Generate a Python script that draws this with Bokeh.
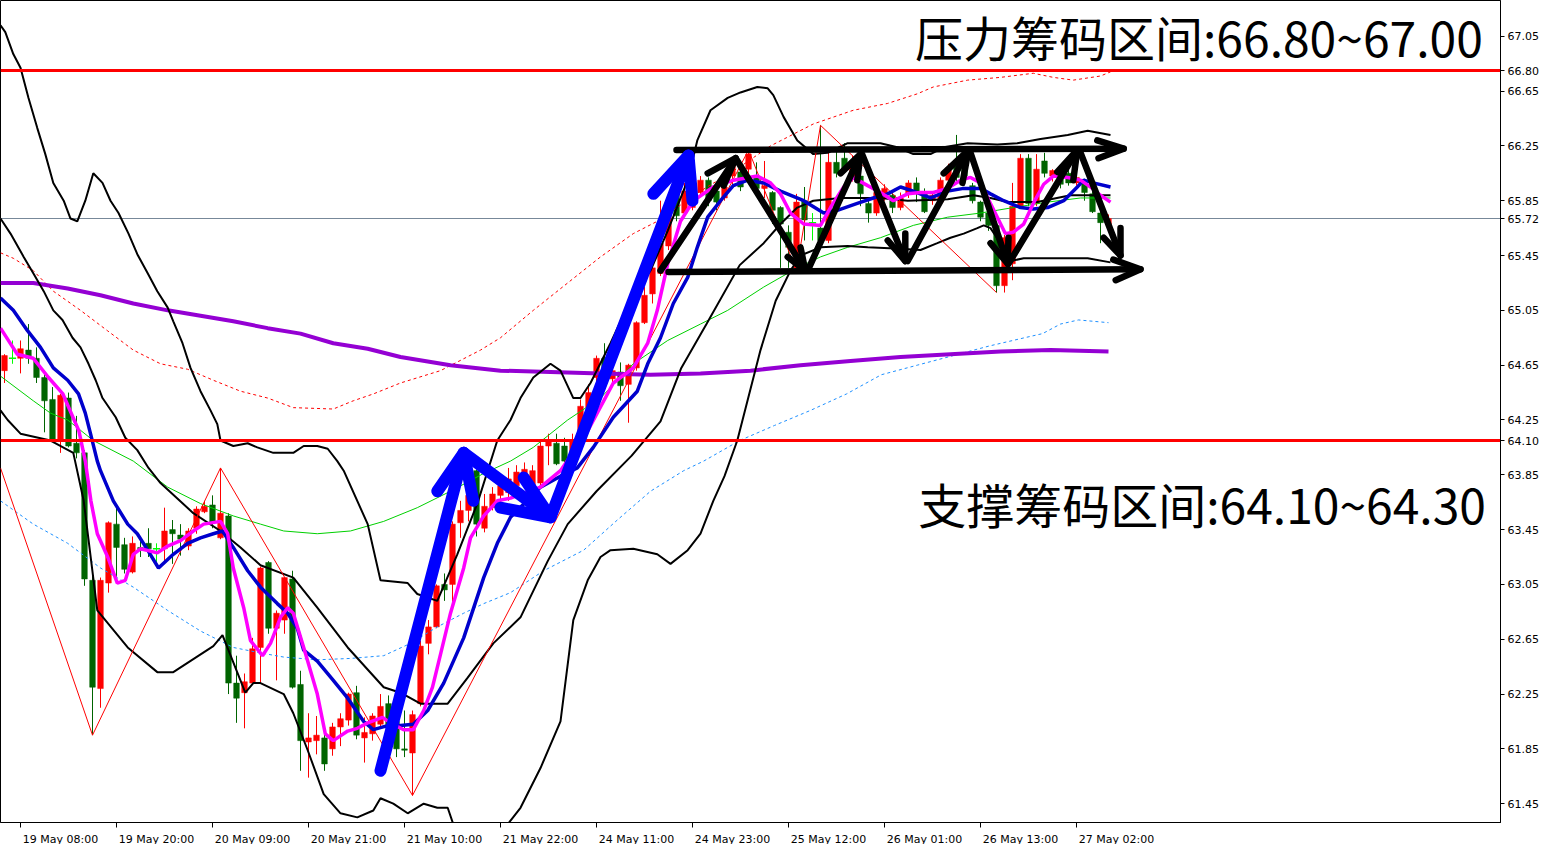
from bokeh.plotting import figure
from bokeh.models import FixedTicker, NumeralTickFormatter, Label
from bokeh.embed import file_html
from bokeh.resources import INLINE

# ---------------- data (H1 candles, bar index 0..138) ----------------
OPEN = [64.61,64.70,64.70,64.76,64.70,64.56,64.40,64.11,64.41,64.08,
        64.01,63.08,62.29,63.06,63.49,63.34,63.14,63.32,63.35,63.31,
        63.31,63.45,63.41,63.33,63.46,63.58,63.63,63.39,63.55,62.33,
        62.26,62.33,62.59,63.21,62.73,62.79,63.09,62.32,61.90,61.91,
        61.93,61.85,62.01,62.06,62.26,61.93,61.96,62.03,62.18,62.05,
        61.85,61.82,62.18,62.62,62.74,63.05,63.05,63.50,63.59,63.88,
        63.46,63.61,63.70,63.72,63.77,63.82,63.77,63.79,64.06,64.08,
        64.06,63.97,64.08,64.34,64.56,64.70,64.55,64.60,64.51,64.63,
        64.96,65.17,65.32,65.52,65.89,65.76,65.80,65.91,66.00,65.92,
        65.87,66.03,66.06,66.08,66.02,65.94,65.91,65.80,65.62,65.36,
        65.85,65.69,65.65,65.56,66.13,66.16,66.02,66.03,65.83,65.76,
        65.87,65.89,65.80,65.90,65.98,65.91,65.85,65.84,66.00,66.12,
        66.08,65.96,65.84,65.76,65.67,65.23,65.39,65.80,66.16,65.83,
        66.14,66.03,66.03,66.05,65.98,65.98,65.90,65.76,65.68]
HIGH = [64.73,64.83,64.83,64.95,64.78,64.61,64.49,64.44,64.45,64.28,
        64.03,63.13,63.10,63.51,63.61,63.39,63.40,63.37,63.46,63.35,
        63.61,63.52,63.49,63.46,63.62,63.66,63.70,63.90,63.57,62.53,
        62.40,62.66,63.18,63.22,62.86,63.10,63.15,62.42,62.11,62.09,
        61.96,62.04,62.11,62.26,62.31,62.08,62.11,62.25,62.24,62.09,
        62.13,62.13,62.64,62.79,63.05,63.13,63.51,63.66,63.73,63.89,
        63.71,63.76,63.83,63.90,63.92,63.94,63.92,64.10,64.15,64.15,
        64.12,64.15,64.40,64.51,64.72,64.81,64.66,64.67,64.66,64.97,
        65.22,65.39,65.85,65.79,65.94,65.98,65.96,66.03,66.02,65.95,
        66.01,66.16,66.10,66.22,66.13,66.14,65.92,65.81,65.67,65.90,
        65.95,65.76,66.40,66.22,66.22,66.27,66.18,66.05,65.87,65.96,
        65.97,65.92,65.91,66.00,66.02,65.94,65.92,66.02,66.12,66.33,
        66.14,65.98,65.85,65.78,65.69,65.60,65.98,66.19,66.19,66.19,
        66.20,66.08,66.05,66.08,66.04,66.01,65.92,65.77,65.75]
LOW = [64.52,64.66,64.59,64.66,64.52,64.16,64.10,64.01,64.05,63.97,
       63.04,61.95,62.15,62.99,63.08,63.13,63.13,63.25,63.25,63.20,
       63.22,63.20,63.26,63.30,63.42,63.57,63.46,63.38,62.25,62.04,
       62.00,62.32,62.33,62.69,62.35,62.69,62.29,61.69,61.64,61.81,
       61.69,61.80,61.87,62.02,61.92,61.75,61.91,62.00,61.95,61.79,
       61.79,61.51,62.16,62.54,62.73,62.93,62.88,63.39,63.51,63.40,
       63.43,63.59,63.64,63.66,63.73,63.76,63.75,63.77,63.92,63.92,
       63.90,63.93,64.05,64.17,64.51,64.51,64.49,64.39,64.23,64.61,
       64.95,65.10,65.30,65.49,65.70,65.74,65.78,65.90,65.81,65.78,
       65.85,65.95,65.92,65.98,65.92,65.87,65.68,65.36,65.36,65.34,
       65.56,65.56,65.54,65.54,66.02,66.07,65.99,65.81,65.69,65.74,
       65.85,65.76,65.78,65.87,65.84,65.76,65.82,65.83,65.97,65.98,
       66.00,65.83,65.70,65.63,65.18,65.18,65.27,65.79,65.81,65.81,
       66.02,65.99,65.94,65.96,65.96,65.85,65.76,65.54,65.66]
CLOSE = [64.72,64.70,64.77,64.70,64.56,64.39,64.11,64.43,64.06,64.01,
         63.09,62.30,63.08,63.50,63.32,63.16,63.35,63.30,63.31,63.31,
         63.44,63.42,63.38,63.44,63.60,63.62,63.50,63.57,62.33,62.22,
         62.34,62.58,63.17,62.73,62.84,63.10,62.30,61.91,61.93,61.95,
         61.74,62.01,62.07,62.25,61.95,61.97,62.09,62.16,62.00,61.85,
         61.84,62.10,62.60,62.74,63.04,63.01,63.49,63.59,63.70,63.49,
         63.62,63.71,63.77,63.82,63.87,63.89,63.88,64.06,64.10,63.93,
         63.95,64.10,64.35,64.45,64.70,64.59,64.61,64.50,64.65,64.96,
         65.16,65.36,65.54,65.74,65.74,65.92,65.94,66.00,65.85,65.84,
         65.95,66.11,65.95,66.19,65.94,65.96,65.78,65.68,65.51,65.84,
         65.71,65.69,65.56,66.13,66.05,66.08,66.14,65.90,65.76,65.91,
         65.94,65.80,65.87,65.98,65.91,65.77,65.89,66.00,66.09,66.02,
         66.03,65.85,65.73,65.67,65.23,65.58,65.81,66.16,65.83,66.08,
         66.05,66.07,65.97,65.98,66.02,65.91,65.77,65.69,65.72]

# indicator lines: (bar, price)
MA_FAST = [(-0.5,64.92),(1.6,64.73),(3.6,64.70),(5.5,64.56),(7.3,64.44),(9.3,64.17),(10.1,63.95),(10.8,63.66),
           (11.6,63.42),(12.9,63.25),(14.1,63.06),(15.1,63.08),(16.1,63.27),(17,63.31),(19.1,63.28),(20.4,63.33),
           (22,63.37),(23.6,63.44),(24.9,63.49),(27,63.51),(27.9,63.42),(28.6,63.17),(29.9,62.88),(30.75,62.64),
           (32.25,62.53),(33.25,62.62),(34.5,62.81),(35.4,62.88),(36.1,62.84),(37.4,62.59),(39.1,62.25),(40.1,61.96),
           (41.1,61.91),(42.9,61.98),(44.1,62.00),(45.4,62.04),(47.25,62.08),(48.25,62.04),(49.9,61.99),(51.1,61.99),
           (52.4,62.13),(53.5,62.30),(54.5,62.54),(55.75,62.84),(57.4,63.17),(58.25,63.39),(59.9,63.55),(61.6,63.66),
           (63.25,63.68),(67,63.76),(69.5,63.88),(72.9,64.17),(76.1,64.52),(78.6,64.63),(80.4,64.81),(81.6,65.05),
           (82.9,65.39),(84.5,65.70),(86.1,65.85),(88.6,65.95),(91.1,66.00),(94.1,66.03),(95.75,65.98),(97,65.90),
           (98.25,65.76),(99.9,65.68),(102,65.67),(103.25,65.80),(104.9,65.95),(106.1,66.02),(107.9,65.96),(109.5,65.91),
           (111.1,65.85),(112.9,65.90),(114.5,65.91),(116.1,65.91),(117.9,65.94),(119.5,66.00),(120.75,66.02),(122,65.98),
           (123.25,65.83),(124.1,65.73),(125.1,65.61),(126.1,65.62),(127.4,65.68),(128.6,65.83),(129.9,65.97),(131.1,66.03),
           (132.9,66.02),(134.5,66.00),(135.75,65.95),(137,65.89),(138.25,65.84)]
MA_SLOW = [(-0.5,65.14),(1.1,65.05),(2.9,64.90),(4.5,64.78),(6.1,64.63),(7.9,64.54),(9.25,64.44),(10.1,64.30),
           (10.75,64.15),(11.6,63.95),(12,63.88),(13.6,63.66),(15.4,63.49),(16.6,63.42),(17.9,63.30),(19.25,63.17),
           (21.1,63.27),(22.9,63.35),(24.5,63.39),(26.1,63.42),(27.25,63.44),(28.6,63.32),(30.4,63.15),(32,63.03),
           (34.1,62.91),(35.4,62.84),(36.6,62.73),(37.4,62.57),(39.1,62.49),(41.1,62.35),(42.9,62.22),(44.9,62.05),
           (46.1,61.99),(47.9,62.02),(49.5,62.02),(51.1,62.03),(52.9,62.13),(54.9,62.33),(57.4,62.66),(59.9,63.10),
           (61.6,63.35),(63.25,63.54),(67,63.76),(69.5,63.84),(71.6,63.90),(73.6,64.05),(76.1,64.27),(79.1,64.46),
           (80.4,64.66),(82,64.85),(83.6,65.10),(85.4,65.29),(86.6,65.51),(87.9,65.73),(89.5,65.85),(91.1,65.96),
           (92.9,66.00),(94.9,65.98),(97,65.92),(99.9,65.85),(102.4,65.76),(104.1,65.78),(106.6,65.83),(108.6,65.87),
           (110.4,65.90),(112,65.95),(113.6,65.92),(115.75,65.87),(117.9,65.92),(119.9,65.94),(122,65.94),(123.25,65.90),
           (124.9,65.85),(127,65.80),(128.6,65.79),(130.4,65.80),(132.4,65.85),(134.1,65.95),(134.9,66.00),(136.1,65.98),
           (138.25,65.95)]
BB_MID = [(-0.5,65.72),(0.75,65.61),(2.4,65.44),(3.6,65.32),(4.9,65.19),(6.1,65.05),(7.25,64.98),(8.5,64.85),
          (9.5,64.78),(10.5,64.66),(11.4,64.54),(12.25,64.41),(13.9,64.27),(15.1,64.12),(16.6,64.03),(18,63.90),
          (19.5,63.79),(23.6,63.57),(27,63.44),(29.5,63.32),(32,63.19),(36.1,63.10),(39.1,62.88),(42.9,62.59),
          (47.4,62.30),(49.5,62.26),(52,62.18),(55.4,62.18),(57.9,62.37),(61.1,62.62),(64.5,62.81),(67.9,63.22),
          (70.4,63.49),(74,63.73),(78.4,63.99),(82,64.24),(84.6,64.63),(87.75,64.95),(91.9,65.38),(94.9,65.54),
          (97,65.68),(99.1,65.80),(101.1,65.85),(104.5,65.87),(109.5,65.87),(112.9,65.85),(117.9,65.86),(121.1,65.89),
          (123.25,65.87),(125.4,65.84),(129.1,65.84),(133.25,65.89),(138.25,65.89)]
BB_UP = [(-0.5,67.13),(0.1,67.08),(1.1,66.92),(2,66.82),(3,66.60),(4.1,66.38),(5.1,66.19),(6.1,65.98),
         (7.4,65.85),(8.25,65.72),(9.1,65.70),(10.1,65.85),(11.1,66.05),(12.25,65.98),(13.25,65.85),(14.25,65.76),
         (15.5,65.61),(16.6,65.46),(17.9,65.32),(19.1,65.19),(20.4,65.07),(21.1,64.97),(22.25,64.81),(23.25,64.63),
         (24.5,64.46),(25.75,64.32),(26.6,64.22),(27,64.10),(28.6,64.06),(30.4,64.08),(31.6,64.05),(33.6,64.01),
         (36.1,64.01),(37.4,64.06),(39.1,64.06),(40.4,64.04),(41.6,63.95),(42.4,63.88),(45.4,63.49),(47,63.08),
         (50.4,63.06),(51.6,62.98),(54.1,62.93),(56.6,63.27),(59.1,63.64),(61.6,64.10),(63.25,64.25),(64.5,64.41),
         (66.1,64.56),(68.25,64.66),(69.5,64.61),(71.1,64.41),(72,64.41),(73.25,64.52),(75.75,64.81),(78.6,65.17),
         (80.75,65.34),(82.9,65.63),(85.4,66.00),(86.6,66.29),(88.25,66.51),(90.4,66.60),(92,66.64),(94.1,66.68),
         (95.4,66.67),(96.1,66.62),(97.4,66.46),(99.1,66.29),(101.1,66.19),(102.9,66.20),(105.4,66.27),(107.9,66.27),
         (109.5,66.27),(111.6,66.24),(113.6,66.19),(115.75,66.19),(117.4,66.24),(120.4,66.27),(124.1,66.26),(126.6,66.27),
         (129.5,66.30),(132.9,66.33),(135.4,66.36),(138.25,66.33)]
BB_LOW = [(-0.5,64.32),(0.4,64.25),(2,64.15),(5.75,64.10),(8.6,64.01),(9.9,63.66),(11.6,62.86),(15.4,62.59),
          (19.1,62.41),(21.1,62.41),(26.1,62.60),(27.25,62.68),(30.1,62.26),(31.1,62.33),(32,62.33),(34.9,62.25),
          (36.1,62.11),(37.9,61.84),(39.9,61.52),(42,61.38),(44.1,61.35),(46.1,61.40),(47,61.49),(48.6,61.45),
          (50.4,61.38),(52.4,61.45),(54.1,61.42),(55.4,61.42),(56.1,61.30),(58.25,61.03),(60.75,61.03),(62.9,61.30),
          (64.5,61.42),(67,61.71),(69.5,62.05),(71.1,62.79),(72.9,63.08),(74.5,63.25),(75.75,63.30),(78.6,63.31),
          (81.6,63.27),(83.25,63.20),(85.4,63.30),(87,63.42),(88.6,63.66),(90,63.84),(91.6,64.10),(94.5,64.76),
          (96.4,65.12),(98.25,65.34),(99.5,65.45),(102,65.51),(105.4,65.52),(107.9,65.51),(112,65.50),(114.5,65.49),
          (116.6,65.54),(118.25,65.58),(119.9,65.61),(121.6,65.65),(122.4,65.67),(123.25,65.65),(124.5,65.54),(125.75,65.41),
          (127.4,65.43),(130.4,65.43),(132.9,65.43),(135.4,65.43),(138.25,65.40)]
MA_LONG = [(-0.5,64.57),(3.6,64.39),(5.75,64.30),(7.9,64.25),(11.1,64.10),(16.1,63.95),(20.4,63.76),(24.5,63.64),
           (28.6,63.55),(32,63.49),(34.9,63.44),(39.1,63.42),(43.25,63.44),(47.4,63.51),(51.6,63.61),(55.75,63.73),
           (59.9,63.86),(63.25,63.95),(66.1,64.05),(70.4,64.25),(74.5,64.41),(78.6,64.66),(82.9,64.83),(87,64.95),
           (90.4,65.05),(94.9,65.22),(99.1,65.36),(102,65.44),(105.4,65.51),(109.5,65.58),(113.6,65.67),(117.9,65.73),
           (122,65.76),(126.1,65.80),(130.4,65.84),(134.5,65.87),(138.25,65.87)]
MA_200 = [(-0.5,65.25),(3.6,65.25),(7.9,65.21),(12,65.16),(16.1,65.10),(20.4,65.05),(24.5,65.01),(28.6,64.97),
          (32.9,64.92),(37,64.88),(41.1,64.81),(45.4,64.77),(49.5,64.71),(55.75,64.65),(62,64.61),(68.25,64.60),
          (74.5,64.59),(80.75,64.58),(87,64.59),(93.25,64.61),(99.5,64.65),(105.75,64.68),(112,64.71),(118.25,64.73),
          (124.5,64.75),(130.75,64.76),(138,64.75)]
ENV_UP = [(-0.5,65.47),(1.1,65.43),(3.6,65.34),(6.1,65.19),(9.5,65.05),(12.9,64.90),(16.1,64.76),(19.5,64.66),
          (22.9,64.62),(26.1,64.54),(29.5,64.46),(32.9,64.41),(36.1,64.34),(41.1,64.33),(43.6,64.39),(46.1,64.44),
          (49.5,64.52),(54.5,64.61),(59.5,64.76),(62,64.85),(66.1,65.05),(70.4,65.25),(74.5,65.44),(78.6,65.61),
          (81.6,65.70),(87,65.92),(92,66.10),(95.75,66.25),(101.1,66.41),(106.1,66.51),(110.4,66.56),(114.1,66.63),
          (116.1,66.68),(120.4,66.73),(124.5,66.75),(128.6,66.78),(131.1,66.75),(133.6,66.73),(137,66.76),(138.25,66.79)]
ENV_LOW = [(-0.5,63.66),(3.6,63.49),(7.9,63.35),(12,63.17),(16.1,63.03),(20.4,62.86),(24.5,62.71),(28.6,62.59),
           (32,62.55),(34.9,62.52),(39.1,62.50),(43.25,62.51),(47.4,62.53),(50.75,62.62),(54.1,62.74),(57.4,62.84),
           (59.9,62.91),(63.25,62.99),(67.4,63.15),(72.4,63.30),(76.6,63.52),(80.75,63.73),(84.9,63.88),(87.4,63.95),
           (91.9,64.10),(96.25,64.21),(100.75,64.32),(105.25,64.44),(109.6,64.58),(114.1,64.65),(118.6,64.72),(123.1,64.79),
           (127.5,64.85),(129.75,64.88),(132,64.95),(134.25,64.98),(138,64.96)]
ZIGZAG = [(-0.5,63.90),(11,61.95),(27,63.90),(51,61.51),(93,66.22),(99,65.34),(102,66.40),(124,65.18)]

KEY_LEVELS = [66.80, 64.10]
LAST_PRICE = 65.72
Y_TICKS = [61.45, 61.85, 62.25, 62.65, 63.05, 63.45, 63.85, 64.25, 64.65, 65.05, 65.45, 65.85, 66.25, 66.65, 67.05]
X_TICK_BARS = [2, 14, 26, 38, 50, 62, 74, 86, 98, 110, 122, 134]
X_TICK_LABELS = ["19 May 08:00", "19 May 20:00", "20 May 09:00", "20 May 21:00", "21 May 10:00", "21 May 22:00",
                 "24 May 11:00", "24 May 23:00", "25 May 12:00", "26 May 01:00", "26 May 13:00", "27 May 02:00"]
TEXT_RESIST = "压力筹码区间:66.80~67.00"
TEXT_SUPPORT = "支撑筹码区间:64.10~64.30"

# hand-drawn annotation arrows (bar, price)
BLACK_ARROWS = [
    [(84, 66.22), (139.9, 66.23)], [(136.6, 66.29), (139.9, 66.23), (136.75, 66.16)],
    [(83, 65.33), (142, 65.35)], [(138.6, 65.42), (142, 65.35), (138.9, 65.27)],
    [(82, 65.34), (91.4, 66.16)], [(87.9, 66.05), (91.4, 66.16), (89.9, 65.96)],
    [(91.4, 66.16), (100.1, 65.34)], [(97.9, 65.44), (100.1, 65.34), (99.5, 65.51)],
    [(100.4, 65.34), (107, 66.19)], [(104.5, 66.05), (107, 66.19), (106.6, 66.00)],
    [(107.2, 66.19), (112.6, 65.41)], [(110.4, 65.56), (112.6, 65.41), (112.6, 65.61)],
    [(112.9, 65.41), (120.5, 66.22)], [(117.4, 66.05), (120.5, 66.22), (119.75, 65.98)],
    [(120.75, 66.20), (125.4, 65.39)], [(123.25, 65.54), (125.4, 65.39), (125.5, 65.58)],
    [(125.5, 65.39), (134.1, 66.22)], [(131.6, 66.06), (134.1, 66.22), (133.6, 66.00)],
    [(134.5, 66.20), (139.5, 65.45)], [(137.4, 65.58), (139.5, 65.45), (139.5, 65.65)],
]
BLUE_ARROWS = [
    [(47, 61.69), (57.4, 64.01)], [(54.1, 63.73), (57.4, 64.01), (58.6, 63.66)],
    [(57.4, 64.01), (68.25, 63.54)], [(64.9, 63.83), (68.25, 63.54), (62, 63.61)],
    [(68.25, 63.54), (85.5, 66.18)], [(81.1, 65.90), (85.5, 66.18), (86, 65.85)],
]

# ---------------- figure ----------------
PX_PER_BAR = 8.0
PX_PER_UNIT = 137.04
FW, FH = 1500, 822
x0 = -0.5
x1 = x0 + FW / PX_PER_BAR
y1 = 67.311
y0 = y1 - FH / PX_PER_UNIT
p = figure(frame_width=FW, frame_height=FH,
           x_range=(x0, x1), y_range=(y0, y1),
           y_axis_location="right", toolbar_location=None, output_backend="svg",
           min_border_left=0, min_border_right=0, min_border_top=0, min_border_bottom=0,
           background_fill_color="white", border_fill_color="white")
p.grid.visible = False
p.outline_line_color = "black"
p.outline_line_width = 1

# last price line (behind)
p.hspan(y=[LAST_PRICE], line_color="#778899", line_width=1)

# candles
N = len(OPEN)
idx = list(range(N))
cols = ["#ff0000" if c > o else ("#006400" if c < o else "#00ff00") for o, c in zip(OPEN, CLOSE)]
p.segment(x0=idx, y0=LOW, x1=idx, y1=HIGH, line_color=cols, line_width=1)
bi = [i for i in idx if OPEN[i] != CLOSE[i]]
p.vbar(x=bi, width=0.7, top=[max(OPEN[i], CLOSE[i]) for i in bi], bottom=[min(OPEN[i], CLOSE[i]) for i in bi],
       fill_color=[cols[i] for i in bi], line_color=[cols[i] for i in bi], line_width=0.5)
di = [i for i in idx if OPEN[i] == CLOSE[i]]
p.segment(x0=[i - 0.45 for i in di], y0=[OPEN[i] for i in di], x1=[i + 0.45 for i in di], y1=[OPEN[i] for i in di],
          line_color="#00ff00", line_width=1.5)

def xy(pairs):
    return [a for a, b in pairs], [b for a, b in pairs]

# indicators
for pairs, col, w, dash in [
    (MA_LONG, "#00d000", 1, "solid"),
    (ENV_UP, "#ff0000", 1, "3 3"),
    (ENV_LOW, "#1e90ff", 1, "3 3"),
    (MA_200, "#9400d3", 4, "solid"),
    (BB_UP, "#000000", 2, "solid"),
    (BB_MID, "#000000", 2, "solid"),
    (BB_LOW, "#000000", 2, "solid"),
    (ZIGZAG, "#ff0000", 1, "solid"),
    (MA_SLOW, "#0000cc", 3.5, "solid"),
    (MA_FAST, "#ff00ff", 3.5, "solid"),
]:
    xs, ys = xy(pairs)
    p.line(xs, ys, line_color=col, line_width=w, line_dash=dash)

# key levels
p.hspan(y=KEY_LEVELS, line_color="#ff0000", line_width=3)

# arrows
p.multi_line([xy(a)[0] for a in BLACK_ARROWS], [xy(a)[1] for a in BLACK_ARROWS],
             line_color="black", line_width=6.5, line_cap="round", line_join="round")
p.multi_line([xy(a)[0] for a in BLUE_ARROWS], [xy(a)[1] for a in BLUE_ARROWS],
             line_color="#0000ff", line_width=12, line_cap="round", line_join="round")

# big texts
p.add_layout(Label(x=149.3, y=67.05, text=TEXT_RESIST, text_align="center", text_baseline="middle",
                   text_font="Noto Sans CJK SC", text_font_size="48px", text_color="black"))
p.add_layout(Label(x=149.7, y=63.645, text=TEXT_SUPPORT, text_align="center", text_baseline="middle",
                   text_font="Noto Sans CJK SC", text_font_size="48px", text_color="black"))

# axes (price axis also marks the two key levels and the last price)
p.yaxis.ticker = FixedTicker(ticks=sorted(Y_TICKS + KEY_LEVELS + [LAST_PRICE]))
p.yaxis.formatter = NumeralTickFormatter(format="0.00")
p.yaxis.major_tick_out = 4
p.yaxis.major_tick_in = 0
p.yaxis.minor_tick_line_color = None
p.yaxis.major_label_standoff = 3

centers = [b + 5 for b in X_TICK_BARS]
p.xaxis.ticker = FixedTicker(ticks=centers, minor_ticks=X_TICK_BARS)
p.xaxis.major_label_overrides = {c: lab for c, lab in zip(centers, X_TICK_LABELS)}
p.xaxis.major_tick_line_color = None
p.xaxis.major_tick_out = 0
p.xaxis.major_tick_in = 0
p.xaxis.minor_tick_out = 5
p.xaxis.minor_tick_in = 0
p.xaxis.minor_tick_line_color = "black"
p.xaxis.major_label_standoff = 5

for ax in (p.xaxis, p.yaxis):
    ax.axis_line_color = "black"
    ax.major_label_text_font = "DejaVu Sans"
    ax.major_label_text_font_size = "11px"
    ax.major_label_text_color = "black"

open("out.html", "w").write(file_html(p, INLINE))
